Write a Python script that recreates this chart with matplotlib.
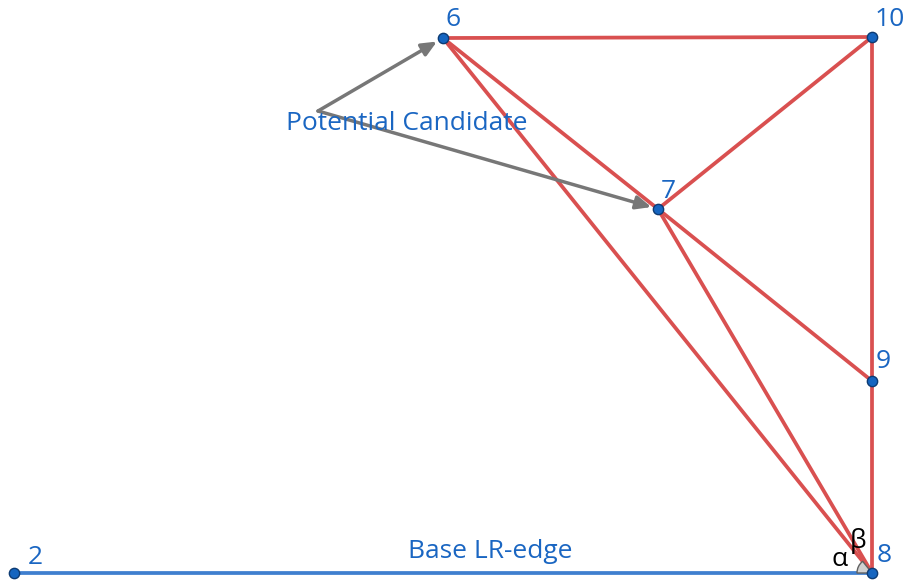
import matplotlib.pyplot as plt
from matplotlib.patches import Wedge
import math

# node positions (pixel-like units, y measured upward)
names = ['2', '6', '7', '8', '9', '10']
xs = [14, 443, 658, 872, 872, 872]
ys = [9, 544, 373, 9, 201, 545]

red_edges = [('6', '10'), ('10', '9'), ('9', '8'), ('6', '7'), ('6', '8'),
             ('7', '10'), ('7', '9'), ('7', '8')]
base_edge = ('2', '8')
arrow_start = (318, 471)
arrow_targets = ['6', '7']

pos = {n: (x, y) for n, x, y in zip(names, xs, ys)}

plt.rcParams['font.family'] = ['Open Sans', 'DejaVu Sans']
fig = plt.figure(figsize=(9.08, 5.82), dpi=100)
ax = fig.add_axes([0, 0, 1, 1])
ax.set_xlim(0, 908)
ax.set_ylim(0, 582)
ax.axis('off')

red = '#d95050'
blue_txt = '#1a66c2'

for a, b in red_edges:
    ax.plot([pos[a][0], pos[b][0]], [pos[a][1], pos[b][1]], color=red, lw=2.7,
            solid_capstyle='round', zorder=2)

a, b = base_edge
ax.plot([pos[a][0], pos[b][0]], [pos[a][1], pos[b][1]], color='#3f7fcf', lw=2.7, zorder=2)

# angle marker at node 8
cx, cy = pos['8']
ang = math.degrees(math.atan2(pos['6'][1] - cy, pos['6'][0] - cx))
ax.add_patch(Wedge((cx, cy), 15, ang, 180, facecolor='#d0d0d0', edgecolor='#606060',
                   lw=1, zorder=3))
ax.text(840, 22, 'α', fontsize=19, color='black', ha='center', va='center', zorder=5)
ax.text(858, 41, 'β', fontsize=19, color='black', ha='center', va='center', zorder=5)

for t in arrow_targets:
    tx, ty = pos[t]
    dx, dy = tx - arrow_start[0], ty - arrow_start[1]
    d = math.hypot(dx, dy)
    ex, ey = tx - dx / d * 7, ty - dy / d * 7
    ax.annotate('', xy=(ex, ey), xytext=arrow_start,
                arrowprops=dict(arrowstyle='-|>,head_length=0.9,head_width=0.4',
                                color='#777777', lw=2.5, shrinkA=0, shrinkB=0),
                zorder=3)

ax.scatter(xs, ys, s=55, color='#1565c0', edgecolors='#0d3b73', linewidths=1, zorder=6)

label_offsets = {'2': (21, 15), '6': (10, 18), '7': (10, 18), '8': (12, 17),
                 '9': (11, 19), '10': (18, 17)}
for n in names:
    ox, oy = label_offsets[n]
    ax.text(pos[n][0] + ox, pos[n][1] + oy, n, fontsize=19, color=blue_txt,
            ha='center', va='center', zorder=7)

ax.text(407, 459, 'Potential Candidate', fontsize=19, color=blue_txt,
        ha='center', va='center', zorder=7)
ax.text(490, 31, 'Base LR-edge', fontsize=19, color=blue_txt,
        ha='center', va='center', zorder=7)

fig.savefig('out.png', dpi=100)
